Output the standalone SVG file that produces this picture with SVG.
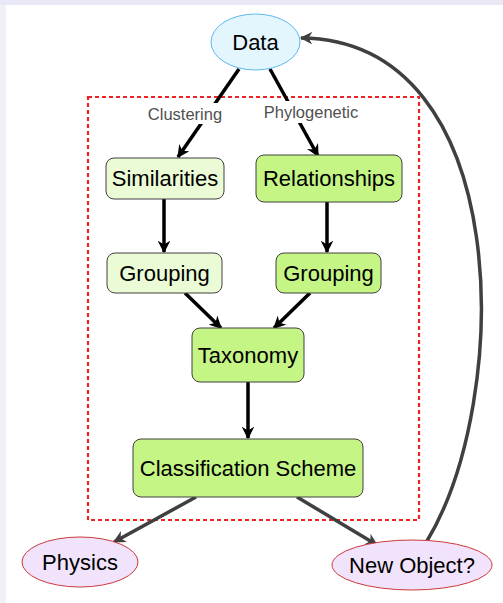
<svg xmlns="http://www.w3.org/2000/svg" width="503" height="603" viewBox="0 0 503 603">
<style>
text{font-family:"Liberation Sans",Arial,sans-serif;text-anchor:middle}
.n{font-size:22px;fill:#000}
.lbl{font-size:16.5px;fill:#505050}
.lt{fill:#ebfbd5;stroke:#404040;stroke-width:1}
.dk{fill:#c4f585;stroke:#404040;stroke-width:1}
.pu{fill:#f1e3fb;stroke:#cc3a3a;stroke-width:1}
.k{stroke:#000;stroke-width:3.5;fill:none;marker-end:url(#ak)}
.g{stroke:#404040;stroke-width:3.5;fill:none;marker-end:url(#ag)}
</style>
<defs>
<marker id="ak" viewBox="0 0 10 10" refX="9" refY="5" markerWidth="3.6" markerHeight="3.6" orient="auto" markerUnits="strokeWidth">
<path d="M0,0 L10,5 L0,10 L3,5 Z" fill="#000"/>
</marker>
<marker id="ag" viewBox="0 0 10 10" refX="9" refY="5" markerWidth="3.6" markerHeight="3.6" orient="auto" markerUnits="strokeWidth">
<path d="M0,0 L10,5 L0,10 L3,5 Z" fill="#404040"/>
</marker>
</defs>
<rect x="0" y="0" width="503" height="603" fill="#ffffff"/>
<rect x="0" y="0" width="6" height="603" fill="#f0f0f8"/>
<rect x="0" y="0" width="503" height="5" fill="#e8e8f6"/>
<rect id="frame" x="88" y="97" width="331" height="423" fill="none" stroke="#ee2222" stroke-width="2.2" stroke-dasharray="4,3"/>
<g id="connectors">
<path class="k" d="M239,69 L178,157"/>
<path class="k" d="M270,69 L318,156"/>
<path class="k" d="M164,199 L164,252"/>
<path class="k" d="M327,202 L327,252"/>
<path class="k" d="M185,293 L221,328"/>
<path class="k" d="M310,293 L274,328"/>
<path class="k" d="M248,382 L248,438"/>
<path class="g" d="M196,497 L114,542"/>
<path class="g" d="M297,497 L377,545"/>
<path class="g" d="M427,541 C512,400 516,40 301,38"/>
<rect x="146" y="103" width="78" height="21" fill="#fff"/>
<rect x="261" y="101" width="99" height="22" fill="#fff"/>
<text class="lbl" x="185" y="120">Clustering</text>
<text class="lbl" x="311" y="118">Phylogenetic</text>
</g>
<g id="data">
<ellipse cx="255.5" cy="42" rx="44.5" ry="28" fill="#e3f5fd" stroke="#5db7ef" stroke-width="1"/>
<text class="n" x="255.5" y="50">Data</text>
</g>
<g id="similarities">
<rect class="lt" x="106" y="158" width="118" height="41" rx="8"/>
<text class="n" x="165" y="186">Similarities</text>
</g>
<g id="relationships">
<rect class="dk" x="256" y="155" width="146" height="47" rx="8"/>
<text class="n" x="329" y="186">Relationships</text>
</g>
<g id="grouping1">
<rect class="lt" x="107" y="253" width="115" height="40" rx="8"/>
<text class="n" x="164.5" y="281">Grouping</text>
</g>
<g id="grouping2">
<rect class="dk" x="276" y="253" width="105" height="40" rx="8"/>
<text class="n" x="328.5" y="281">Grouping</text>
</g>
<g id="taxonomy">
<rect class="dk" x="192" y="328" width="112" height="54" rx="8"/>
<text class="n" x="248" y="363">Taxonomy</text>
</g>
<g id="classification">
<rect class="dk" x="133" y="439" width="230" height="58" rx="8"/>
<text class="n" x="248" y="476">Classification Scheme</text>
</g>
<g id="physics">
<ellipse class="pu" cx="80" cy="562" rx="58" ry="25"/>
<text class="n" x="80" y="570">Physics</text>
</g>
<g id="newobject">
<ellipse class="pu" cx="412" cy="565" rx="80" ry="25"/>
<text class="n" x="412" y="573">New Object?</text>
</g>
</svg>
